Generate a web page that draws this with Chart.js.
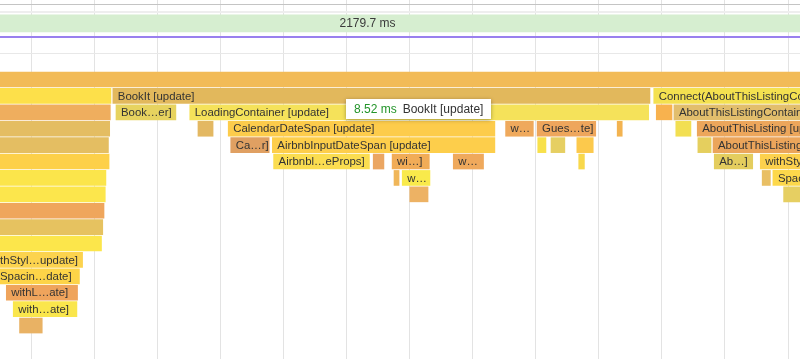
<!DOCTYPE html>
<html><head><meta charset="utf-8">
<script src="https://cdn.jsdelivr.net/npm/chart.js@4/dist/chart.umd.min.js"></script>
<style>html,body{margin:0;padding:0;background:#fff}#wrap{width:800px;height:359px;position:relative}</style>
</head><body><div id="wrap"><canvas id="c"></canvas></div>
<script>
// ---- data (time in ms relative to first gridline, row = flame depth) ----
const frameLabel = "2179.7 ms";
const frameRow = -3.42;
const tipDuration = "8.52 ms";
const tipName = "BookIt [update]";

const barRows = [0, 1,1,1, 2,2,2,2,2, 3,3,3,3,3,3,3,3, 4,4,4,4,4,4,4,4, 5,5,5,5,5,5,5,5, 6,6,6,6,6, 7,7,7, 8, 9, 10, 11, 12, 13, 14, 15];
const barStarts = [-2, -2,1.29,9.87, -2,1.34,2.51,9.91,10.19, -2,2.64,3.12,7.52,8.02,9.29,10.22,10.56,
  -2,3.16,3.82,8.03,8.24,8.65,10.57,10.81, -2,3.84,5.42,5.72,6.69,8.68,10.83,11.56,
  -2,5.75,5.88,11.59,11.76, -2,6.00,11.93, -2, -2, -2, -2, -2, -0.40, -0.29, -0.19];
const barEnds = [14, 1.26,9.81,14, 1.25,2.29,9.79,10.16,14, 1.24,2.88,7.35,7.96,8.95,9.37,10.46,14,
  1.22,3.77,7.35,8.16,8.46,8.91,10.78,14, 1.23,5.36,5.59,6.31,7.17,8.77,11.44,14,
  1.18,5.83,6.32,11.72,14, 1.17,6.29,14, 1.15, 1.13, 1.11, 0.81, 0.76, 0.73, 0.72, 0.17];
const barLabels = ["", "","BookIt [update]","Connect(AboutThisListingContainer) [update]",
  "","Book…er]","LoadingContainer [update]","","AboutThisListingContainer [update]",
  "","","CalendarDateSpan [update]","w…","Gues…te]","","","AboutThisListing [update]",
  "","Ca…r]","AirbnbInputDateSpan [update]","","","","","AboutThisListingSection [update]",
  "","Airbnbl…eProps]","","wi…]","w…","","Ab…]","withStyles(AboutThisListingSection) [update]",
  "","","w…","","Spacing [update]", "","","", "", "", "", "thStyl…update]", "Spacin…date]", "withL…ate]", "with…ate]", ""];

// ---- styles ----
const barColors = ["#F2BB57", "#FDE04A","#E2B85C","#F4E150", "#EFAE5E","#E7D35F","#F5E25A","#F8B24E","#E2BE6C",
  "#E4BD62","#E3B862","#FDCC4B","#EFA95C","#EEA65C","#F3B350","#F2DF52","#ECA65B",
  "#E4BE62","#E0A062","#FDCE4B","#F8E14B","#E6CF62","#FCC94C","#E5CF5E","#EBA55B",
  "#FDD049","#FBDD50","#EBA662","#F1AC57","#EFA95C","#F8D84B","#E4CD5E","#FDD14D",
  "#FBE54B","#F0B659","#F9EA4B","#E9BF64","#FDD84B", "#FCE64C","#EDB264","#E6CF62",
  "#EFA65C", "#E6C260", "#FCE64B", "#FCD34E", "#FDD448", "#EFA45C", "#FAE64C", "#E9B264"];
const FONT = '11.4px "Liberation Sans", Arial, sans-serif';

const bars = barRows.map((r, i) => ({x: [barStarts[i], barEnds[i]], y: r}));

const decor = {
  id: 'decor',
  beforeDatasetsDraw(chart) {
    const {ctx, chartArea: a, scales: {y}} = chart;
    const hl = (v, color, w) => {
      const py = Math.round(y.getPixelForValue(v)) + (w % 2 ? 0.5 : 0);
      ctx.save(); ctx.strokeStyle = color; ctx.lineWidth = w;
      ctx.beginPath(); ctx.moveTo(a.left, py); ctx.lineTo(a.right, py); ctx.stroke(); ctx.restore();
    };
    hl(-4.58, '#c4c4c4', 1);
    hl(-4.10, '#eeeeee', 2);
    hl(-1.62, '#e8e8e8', 1);
    hl(-2.62, '#9a80ee', 2);
  },
  afterDatasetsDraw(chart) {
    const {ctx, chartArea: a, scales: {x, y}} = chart;
    ctx.save();
    ctx.font = FONT;
    ctx.textBaseline = 'middle';
    ctx.fillStyle = '#333';
    const meta = chart.getDatasetMeta(1);
    meta.data.forEach((el, i) => {
      const t = barLabels[i];
      if (!t) return;
      const p = el.getProps(['x', 'base', 'y', 'height'], true);
      const l = Math.max(Math.min(p.x, p.base), a.left), r = Math.min(Math.max(p.x, p.base), a.right);
      if (r - l < 4) return;
      ctx.save();
      ctx.beginPath(); ctx.rect(l, p.y - p.height / 2, r - l, p.height); ctx.clip();
      const tx = Math.min(p.x, p.base) < a.left ? a.left : l + 5;
      ctx.fillText(t, tx, p.y + 0.5);
      ctx.restore();
    });
    // frame label
    ctx.font = '12px "Liberation Sans", Arial, sans-serif';
    ctx.fillStyle = '#3a3a3a';
    ctx.textAlign = 'center';
    ctx.fillText(frameLabel, x.getPixelForValue(5.33), y.getPixelForValue(frameRow) + 0.5);
    ctx.restore();
  },
  afterDraw(chart) {
    const {ctx, scales: {x, y}} = chart;
    const left = Math.round(x.getPixelForValue(4.99));
    const cy = y.getPixelForValue(1.80);
    const w = 145, h = 20, top = Math.round(cy - h / 2);
    ctx.save();
    ctx.shadowColor = 'rgba(0,0,0,0.35)';
    ctx.shadowBlur = 4; ctx.shadowOffsetY = 1;
    ctx.fillStyle = '#fff';
    ctx.fillRect(left, top, w, h);
    ctx.shadowColor = 'transparent';
    ctx.font = '12px "Liberation Sans", Arial, sans-serif';
    ctx.textBaseline = 'middle';
    ctx.fillStyle = '#23942a';
    ctx.fillText(tipDuration, left + 8, top + h / 2 + 0.5);
    const w1 = ctx.measureText(tipDuration).width;
    ctx.fillStyle = '#333';
    ctx.fillText(tipName, left + 8 + w1 + 6, top + h / 2 + 0.5);
    ctx.restore();
  }
};

new Chart(document.getElementById('c'), {
  type: 'bar',
  data: {datasets: [
    {data: [{x: [-2, 14], y: frameRow}], backgroundColor: '#D6EED0', barThickness: 17, grouped: false},
    {data: bars, backgroundColor: barColors, barThickness: 15, grouped: false}
  ]},
  options: {
    indexAxis: 'y',
    responsive: true, maintainAspectRatio: false, animation: false,
    events: [],
    layout: {padding: 0},
    plugins: {legend: {display: false}, tooltip: {enabled: false}},
    scales: {
      x: {type: 'linear', min: -0.5, max: 12.19, z: 1, offset: false,
          ticks: {display: false, stepSize: 1, includeBounds: false, autoSkip: false},
          grid: {color: 'rgba(0,0,0,0.11)', drawTicks: false, tickLength: 0},
          border: {display: false}},
      y: {type: 'linear', reverse: true, min: -4.85, max: 17.04, display: false, offset: false}
    }
  },
  plugins: [decor]
});
</script></body></html>
